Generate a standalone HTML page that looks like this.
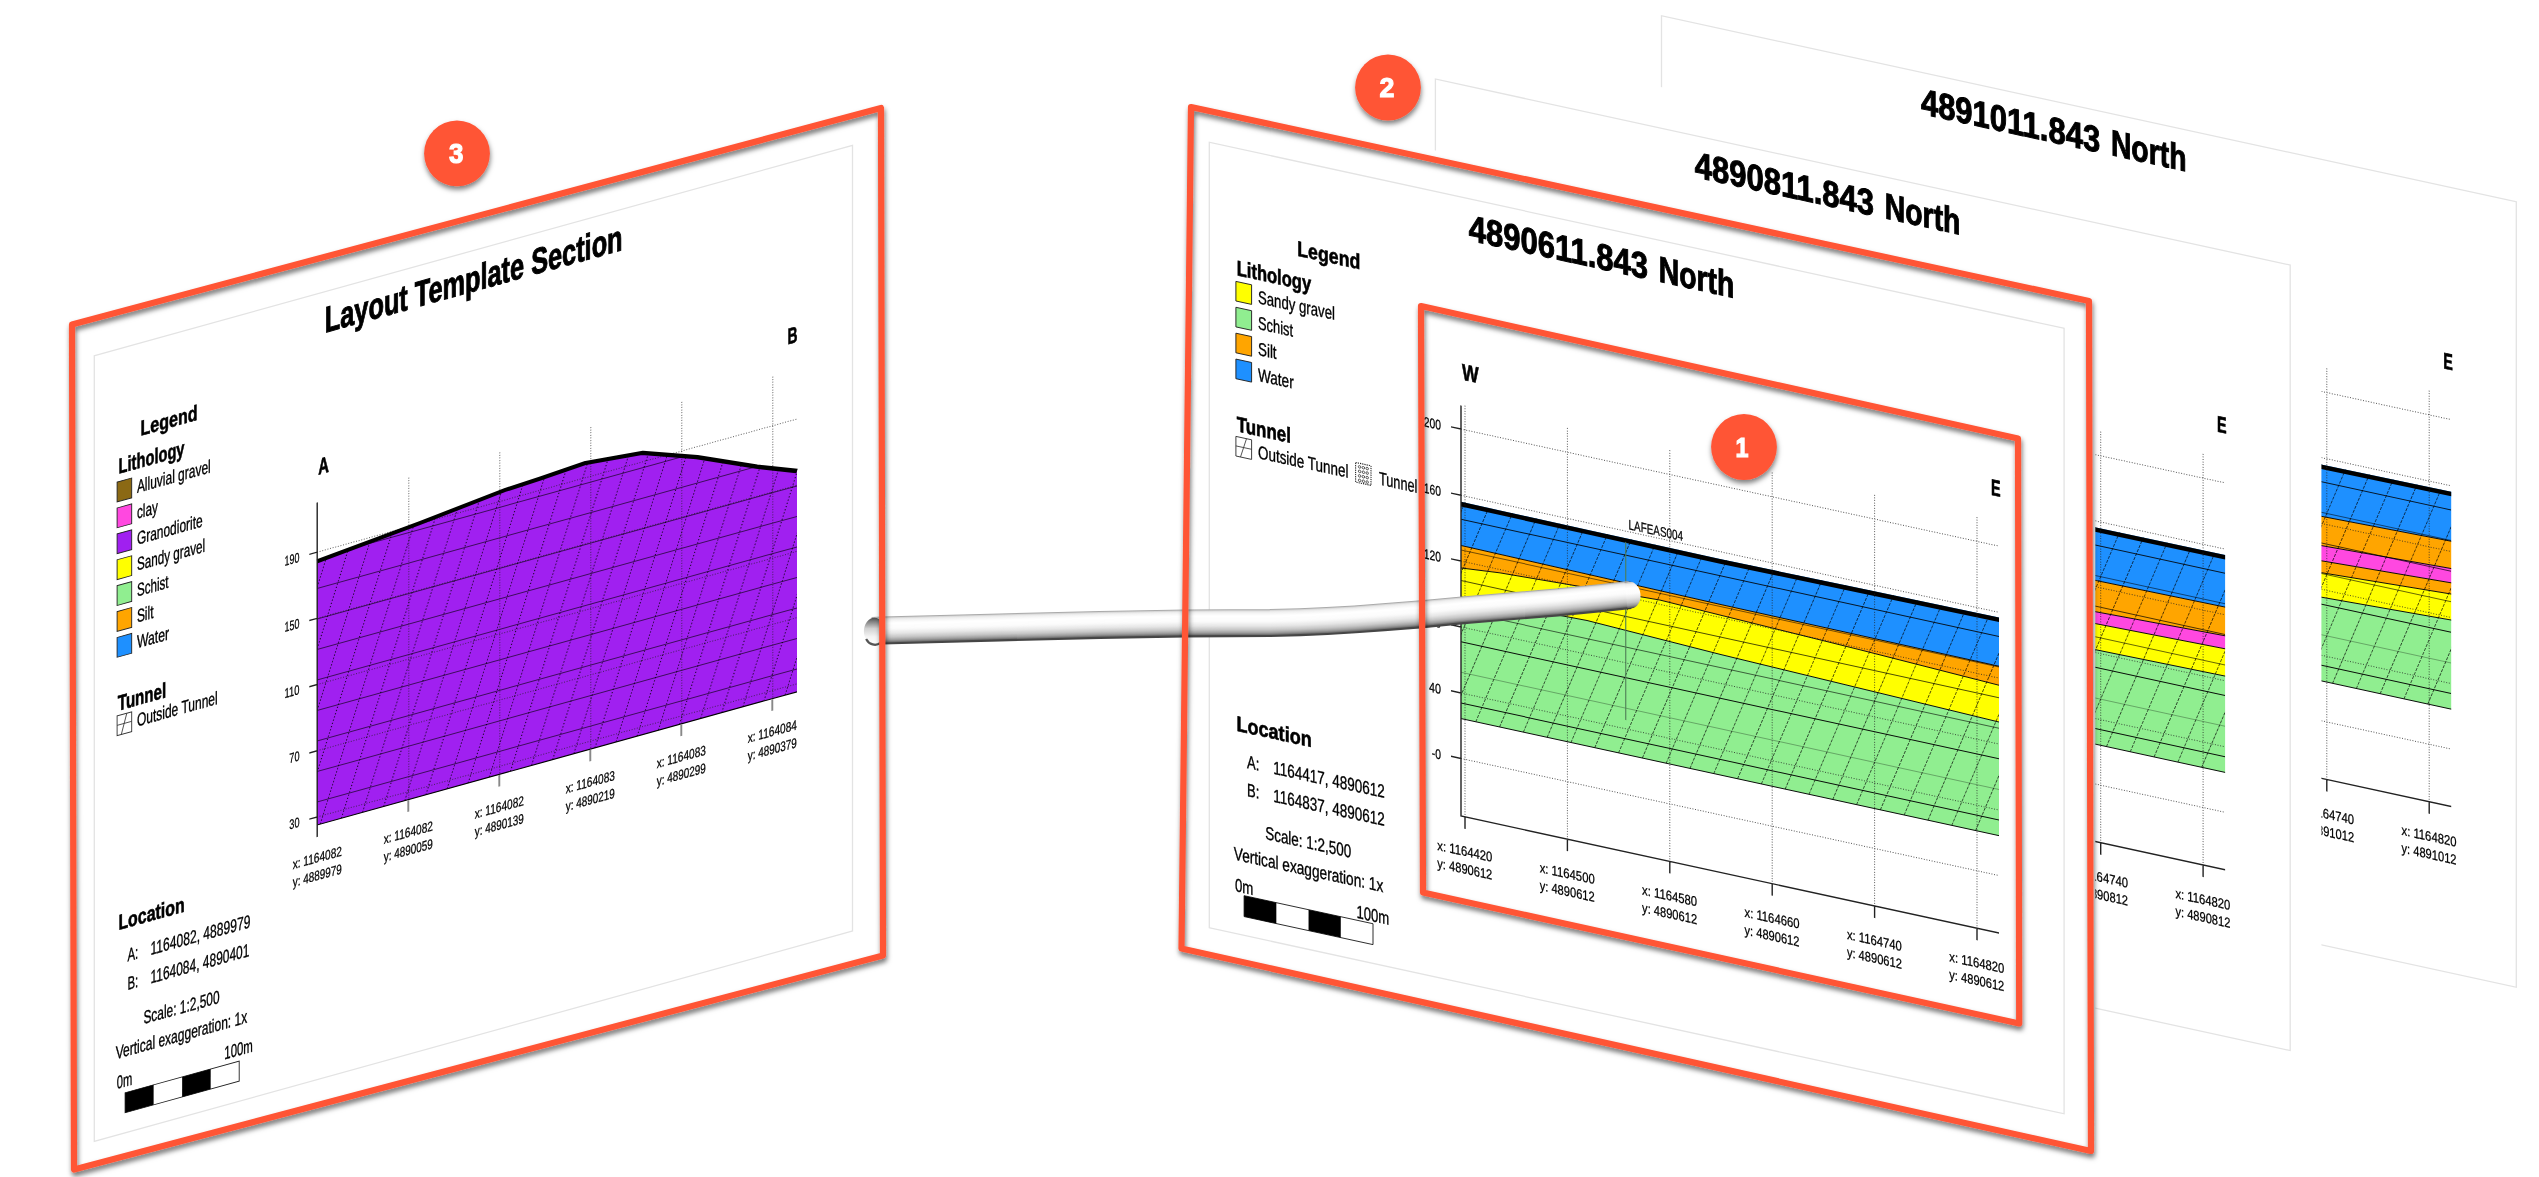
<!DOCTYPE html><html><head><meta charset="utf-8"><title>Section layout</title>
<style>html,body{margin:0;padding:0;background:#fff;overflow:hidden}svg{display:block;will-change:transform}text{font-family:"Liberation Sans",sans-serif}</style></head><body>
<svg width="2539" height="1177" viewBox="0 0 2539 1177">
<defs><filter id="sh" x="-5%" y="-5%" width="110%" height="110%"><feDropShadow dx="1" dy="3.6" stdDeviation="2.5" flood-color="#000" flood-opacity="0.55"/></filter><filter id="sh2" x="-20%" y="-20%" width="140%" height="140%"><feDropShadow dx="0.5" dy="3.4" stdDeviation="2.6" flood-color="#000" flood-opacity="0.5"/></filter></defs>
<rect width="2539" height="1177" fill="#fff"/>
<g transform="translate(452.2 -126.5) matrix(1 0.2176 0 1 0 -263.14)"><polygon points="1191.3,101.3 2095.3,101.3 2095.3,963.8 1191.3,963.8" fill="#fff"/><rect x="1209.3" y="142.3" width="854.8" height="785.5" fill="none" stroke="#e3e3e3" stroke-width="1.3"/><text x="1468.7" y="183.8" font-size="36.5" font-weight="bold" textLength="179.3" lengthAdjust="spacingAndGlyphs" stroke="#000" stroke-width="1.02">4891011.843</text><text x="1658.7" y="183.8" font-size="36.5" font-weight="bold" textLength="75.6" lengthAdjust="spacingAndGlyphs" stroke="#000" stroke-width="1.02">North</text><polygon points="1461,448 1869,447.4 1999,446.4 1999,495.9 1869,499.2 1461,506" fill="#1E90FF"/><polygon points="1461,506 1869,499.2 1999,495.9 1999,523.2 1869,528.5 1461,540" fill="#FFA500"/><polygon points="1461,540 1869,528.5 1999,523.2 1999,537.5 1869,543.7 1461,558" fill="#FF48E0"/><polygon points="1461,558 1869,543.7 1999,537.5 1999,548.7 1869,555.6 1461,572" fill="#FFA500"/><polygon points="1461,572 1869,555.6 1999,548.7 1999,574.7 1869,580.1 1461,592" fill="#FFFF00"/><polygon points="1461,592 1869,580.1 1999,574.7 1999,663.8 1869,663.8 1461,663.8" fill="#90EE90"/><clipPath id="h1"><polygon points="1461,448 1869,447.4 1999,446.4 1999,663.8 1461,663.8" /></clipPath><g clip-path="url(#h1)" stroke="#000" fill="none"><path d="M1332.9 664L1420.06 440M1380.5 664L1467.66 440M1428.1 664L1515.26 440M1475.7 664L1562.86 440M1523.3 664L1610.46 440M1570.9 664L1658.06 440M1618.5 664L1705.66 440M1666.1 664L1753.26 440M1713.7 664L1800.86 440M1761.3 664L1848.46 440M1808.9 664L1896.06 440M1856.5 664L1943.66 440M1904.1 664L1991.26 440M1951.7 664L2038.86 440M1999.3 664L2086.46 440" stroke-width="0.85" stroke-dasharray="3.4 1.3" stroke-opacity="0.72"/><path d="M1356.7 664L1443.86 440M1404.3 664L1491.46 440M1451.9 664L1539.06 440M1499.5 664L1586.66 440M1547.1 664L1634.26 440M1594.7 664L1681.86 440M1642.3 664L1729.46 440M1689.9 664L1777.06 440M1737.5 664L1824.66 440M1785.1 664L1872.26 440M1832.7 664L1919.86 440M1880.3 664L1967.46 440M1927.9 664L2015.06 440M1975.5 664L2062.66 440M2023.1 664L2110.26 440" stroke-width="0.85" stroke-dasharray="3.4 1.3" stroke-opacity="0.78"/><path d="M1461 464.6H1999" stroke-width="1" stroke-opacity="0.85"/><path d="M1461 495.2H1999" stroke-width="1" stroke-opacity="0.55"/><path d="M1461 525.8H1999" stroke-width="1" stroke-opacity="0.7"/><path d="M1461 556.4H1999" stroke-width="1" stroke-opacity="0.6"/><path d="M1461 587H1999" stroke-width="1" stroke-opacity="0.95"/><path d="M1461 617.6H1999" stroke-width="1" stroke-opacity="0.3"/><path d="M1461 648.2H1999" stroke-width="1" stroke-opacity="0.95"/></g><polyline points="1461,506 1869,499.2 1999,495.9" fill="none" stroke="#000" stroke-width="0.9"/><polyline points="1461,540 1869,528.5 1999,523.2" fill="none" stroke="#000" stroke-width="0.9"/><polyline points="1461,558 1869,543.7 1999,537.5" fill="none" stroke="#000" stroke-width="0.9"/><polyline points="1461,572 1869,555.6 1999,548.7" fill="none" stroke="#000" stroke-width="0.9"/><polyline points="1461,592 1869,580.1 1999,574.7" fill="none" stroke="#000" stroke-width="0.9"/><polyline points="1461,663.8 1869,663.8 1999,663.8" fill="none" stroke="#000" stroke-width="0.9"/><polygon points="1461,448 1869,447.4 1999,446.4 1999,451 1869,452 1461,452.6" fill="#000"/><path d="M1465 350V761M1567.4 350V761M1669.8 350V761M1772.2 350V761M1874.6 350V761M1977 350V761M1461 374.3H1999M1461 440.5H1999M1461 506.3H1999M1461 572.2H1999M1461 638.2H1999M1461 703.7H1999" stroke="#222" stroke-width="1" stroke-dasharray="1 1.6" fill="none" opacity="0.75"/><path d="M1461 350.7V761.2H1999M1451 374.3H1461M1451 440.5H1461M1451 506.3H1461M1451 572.2H1461M1451 638.2H1461M1451 703.7H1461M1465 761.2V773.2M1567.4 761.2V773.2M1669.8 761.2V773.2M1772.2 761.2V773.2M1874.6 761.2V773.2M1977 761.2V773.2" stroke="#222" stroke-width="1.4" fill="none"/><text x="1423.8" y="379.7" font-size="13.7" textLength="17.2" lengthAdjust="spacingAndGlyphs" stroke="#000" stroke-width="0.26">200</text><text x="1423.8" y="445.9" font-size="13.7" textLength="17.2" lengthAdjust="spacingAndGlyphs" stroke="#000" stroke-width="0.26">160</text><text x="1423.8" y="511.7" font-size="13.7" textLength="17.2" lengthAdjust="spacingAndGlyphs" stroke="#000" stroke-width="0.26">120</text><text x="1429.4" y="577.6" font-size="13.7" textLength="11.6" lengthAdjust="spacingAndGlyphs" stroke="#000" stroke-width="0.26">80</text><text x="1429" y="643.6" font-size="13.7" textLength="12" lengthAdjust="spacingAndGlyphs" stroke="#000" stroke-width="0.26">40</text><text x="1431.8" y="709.1" font-size="13.7" textLength="9.2" lengthAdjust="spacingAndGlyphs" stroke="#000" stroke-width="0.26">-0</text><text x="1437.3" y="800.3" font-size="13.7" textLength="55" lengthAdjust="spacingAndGlyphs" stroke="#000" stroke-width="0.26">x: 1164420</text><text x="1437.3" y="818.1" font-size="13.7" textLength="55" lengthAdjust="spacingAndGlyphs" stroke="#000" stroke-width="0.26">y: 4891012</text><text x="1539.7" y="800.3" font-size="13.7" textLength="55" lengthAdjust="spacingAndGlyphs" stroke="#000" stroke-width="0.26">x: 1164500</text><text x="1539.7" y="818.1" font-size="13.7" textLength="55" lengthAdjust="spacingAndGlyphs" stroke="#000" stroke-width="0.26">y: 4891012</text><text x="1642.1" y="800.3" font-size="13.7" textLength="55" lengthAdjust="spacingAndGlyphs" stroke="#000" stroke-width="0.26">x: 1164580</text><text x="1642.1" y="818.1" font-size="13.7" textLength="55" lengthAdjust="spacingAndGlyphs" stroke="#000" stroke-width="0.26">y: 4891012</text><text x="1744.5" y="800.3" font-size="13.7" textLength="55" lengthAdjust="spacingAndGlyphs" stroke="#000" stroke-width="0.26">x: 1164660</text><text x="1744.5" y="818.1" font-size="13.7" textLength="55" lengthAdjust="spacingAndGlyphs" stroke="#000" stroke-width="0.26">y: 4891012</text><text x="1846.9" y="800.3" font-size="13.7" textLength="55" lengthAdjust="spacingAndGlyphs" stroke="#000" stroke-width="0.26">x: 1164740</text><text x="1846.9" y="818.1" font-size="13.7" textLength="55" lengthAdjust="spacingAndGlyphs" stroke="#000" stroke-width="0.26">y: 4891012</text><text x="1949.3" y="800.3" font-size="13.7" textLength="55" lengthAdjust="spacingAndGlyphs" stroke="#000" stroke-width="0.26">x: 1164820</text><text x="1949.3" y="818.1" font-size="13.7" textLength="55" lengthAdjust="spacingAndGlyphs" stroke="#000" stroke-width="0.26">y: 4891012</text><text x="1991" y="324.6" font-size="22.6" font-weight="bold" textLength="9.6" lengthAdjust="spacingAndGlyphs" stroke="#000" stroke-width="0.63">E</text></g>
<g transform="translate(226.1 -63.25) matrix(1 0.2176 0 1 0 -263.14)"><polygon points="1191.3,101.3 2095.3,101.3 2095.3,963.8 1191.3,963.8" fill="#fff"/><rect x="1209.3" y="142.3" width="854.8" height="785.5" fill="none" stroke="#e3e3e3" stroke-width="1.3"/><text x="1468.7" y="183.8" font-size="36.5" font-weight="bold" textLength="179.3" lengthAdjust="spacingAndGlyphs" stroke="#000" stroke-width="1.02">4890811.843</text><text x="1658.7" y="183.8" font-size="36.5" font-weight="bold" textLength="75.6" lengthAdjust="spacingAndGlyphs" stroke="#000" stroke-width="1.02">North</text><polygon points="1461,447.5 1870,446.9 1999,446.3 1999,498.5 1870,500 1461,503" fill="#1E90FF"/><polygon points="1461,503 1870,500 1999,498.5 1999,527.2 1870,531.3 1461,540" fill="#FFA500"/><polygon points="1461,540 1870,531.3 1999,527.2 1999,540.2 1870,543.2 1461,550" fill="#FF48E0"/><polygon points="1461,550 1870,543.2 1999,540.2 1999,567.5 1870,569.3 1461,574" fill="#FFFF00"/><polygon points="1461,574 1870,569.3 1999,567.5 1999,663.8 1870,663.8 1461,663.8" fill="#90EE90"/><clipPath id="h2"><polygon points="1461,447.5 1870,446.9 1999,446.3 1999,663.8 1461,663.8" /></clipPath><g clip-path="url(#h2)" stroke="#000" fill="none"><path d="M1332.9 664L1420.06 440M1380.5 664L1467.66 440M1428.1 664L1515.26 440M1475.7 664L1562.86 440M1523.3 664L1610.46 440M1570.9 664L1658.06 440M1618.5 664L1705.66 440M1666.1 664L1753.26 440M1713.7 664L1800.86 440M1761.3 664L1848.46 440M1808.9 664L1896.06 440M1856.5 664L1943.66 440M1904.1 664L1991.26 440M1951.7 664L2038.86 440M1999.3 664L2086.46 440" stroke-width="0.85" stroke-dasharray="3.4 1.3" stroke-opacity="0.72"/><path d="M1356.7 664L1443.86 440M1404.3 664L1491.46 440M1451.9 664L1539.06 440M1499.5 664L1586.66 440M1547.1 664L1634.26 440M1594.7 664L1681.86 440M1642.3 664L1729.46 440M1689.9 664L1777.06 440M1737.5 664L1824.66 440M1785.1 664L1872.26 440M1832.7 664L1919.86 440M1880.3 664L1967.46 440M1927.9 664L2015.06 440M1975.5 664L2062.66 440M2023.1 664L2110.26 440" stroke-width="0.85" stroke-dasharray="3.4 1.3" stroke-opacity="0.78"/><path d="M1461 464.6H1999" stroke-width="1" stroke-opacity="0.85"/><path d="M1461 495.2H1999" stroke-width="1" stroke-opacity="0.55"/><path d="M1461 525.8H1999" stroke-width="1" stroke-opacity="0.7"/><path d="M1461 556.4H1999" stroke-width="1" stroke-opacity="0.6"/><path d="M1461 587H1999" stroke-width="1" stroke-opacity="0.95"/><path d="M1461 617.6H1999" stroke-width="1" stroke-opacity="0.3"/><path d="M1461 648.2H1999" stroke-width="1" stroke-opacity="0.95"/></g><polyline points="1461,503 1870,500 1999,498.5" fill="none" stroke="#000" stroke-width="0.9"/><polyline points="1461,540 1870,531.3 1999,527.2" fill="none" stroke="#000" stroke-width="0.9"/><polyline points="1461,550 1870,543.2 1999,540.2" fill="none" stroke="#000" stroke-width="0.9"/><polyline points="1461,574 1870,569.3 1999,567.5" fill="none" stroke="#000" stroke-width="0.9"/><polyline points="1461,663.8 1870,663.8 1999,663.8" fill="none" stroke="#000" stroke-width="0.9"/><polygon points="1461,447.5 1870,446.9 1999,446.3 1999,450.9 1870,451.5 1461,452.1" fill="#000"/><path d="M1465 350V761M1567.4 350V761M1669.8 350V761M1772.2 350V761M1874.6 350V761M1977 350V761M1461 374.3H1999M1461 440.5H1999M1461 506.3H1999M1461 572.2H1999M1461 638.2H1999M1461 703.7H1999" stroke="#222" stroke-width="1" stroke-dasharray="1 1.6" fill="none" opacity="0.75"/><path d="M1461 350.7V761.2H1999M1451 374.3H1461M1451 440.5H1461M1451 506.3H1461M1451 572.2H1461M1451 638.2H1461M1451 703.7H1461M1465 761.2V773.2M1567.4 761.2V773.2M1669.8 761.2V773.2M1772.2 761.2V773.2M1874.6 761.2V773.2M1977 761.2V773.2" stroke="#222" stroke-width="1.4" fill="none"/><text x="1423.8" y="379.7" font-size="13.7" textLength="17.2" lengthAdjust="spacingAndGlyphs" stroke="#000" stroke-width="0.26">200</text><text x="1423.8" y="445.9" font-size="13.7" textLength="17.2" lengthAdjust="spacingAndGlyphs" stroke="#000" stroke-width="0.26">160</text><text x="1423.8" y="511.7" font-size="13.7" textLength="17.2" lengthAdjust="spacingAndGlyphs" stroke="#000" stroke-width="0.26">120</text><text x="1429.4" y="577.6" font-size="13.7" textLength="11.6" lengthAdjust="spacingAndGlyphs" stroke="#000" stroke-width="0.26">80</text><text x="1429" y="643.6" font-size="13.7" textLength="12" lengthAdjust="spacingAndGlyphs" stroke="#000" stroke-width="0.26">40</text><text x="1431.8" y="709.1" font-size="13.7" textLength="9.2" lengthAdjust="spacingAndGlyphs" stroke="#000" stroke-width="0.26">-0</text><text x="1437.3" y="800.3" font-size="13.7" textLength="55" lengthAdjust="spacingAndGlyphs" stroke="#000" stroke-width="0.26">x: 1164420</text><text x="1437.3" y="818.1" font-size="13.7" textLength="55" lengthAdjust="spacingAndGlyphs" stroke="#000" stroke-width="0.26">y: 4890812</text><text x="1539.7" y="800.3" font-size="13.7" textLength="55" lengthAdjust="spacingAndGlyphs" stroke="#000" stroke-width="0.26">x: 1164500</text><text x="1539.7" y="818.1" font-size="13.7" textLength="55" lengthAdjust="spacingAndGlyphs" stroke="#000" stroke-width="0.26">y: 4890812</text><text x="1642.1" y="800.3" font-size="13.7" textLength="55" lengthAdjust="spacingAndGlyphs" stroke="#000" stroke-width="0.26">x: 1164580</text><text x="1642.1" y="818.1" font-size="13.7" textLength="55" lengthAdjust="spacingAndGlyphs" stroke="#000" stroke-width="0.26">y: 4890812</text><text x="1744.5" y="800.3" font-size="13.7" textLength="55" lengthAdjust="spacingAndGlyphs" stroke="#000" stroke-width="0.26">x: 1164660</text><text x="1744.5" y="818.1" font-size="13.7" textLength="55" lengthAdjust="spacingAndGlyphs" stroke="#000" stroke-width="0.26">y: 4890812</text><text x="1846.9" y="800.3" font-size="13.7" textLength="55" lengthAdjust="spacingAndGlyphs" stroke="#000" stroke-width="0.26">x: 1164740</text><text x="1846.9" y="818.1" font-size="13.7" textLength="55" lengthAdjust="spacingAndGlyphs" stroke="#000" stroke-width="0.26">y: 4890812</text><text x="1949.3" y="800.3" font-size="13.7" textLength="55" lengthAdjust="spacingAndGlyphs" stroke="#000" stroke-width="0.26">x: 1164820</text><text x="1949.3" y="818.1" font-size="13.7" textLength="55" lengthAdjust="spacingAndGlyphs" stroke="#000" stroke-width="0.26">y: 4890812</text><text x="1991" y="324.6" font-size="22.6" font-weight="bold" textLength="9.6" lengthAdjust="spacingAndGlyphs" stroke="#000" stroke-width="0.63">E</text></g>
<g transform="translate(0 0) matrix(1 0.2176 0 1 0 -263.14)"><polygon points="1191.3,101.3 2095.3,101.3 2095.3,963.8 1191.3,963.8" fill="#fff"/><rect x="1209.3" y="142.3" width="854.8" height="785.5" fill="none" stroke="#e3e3e3" stroke-width="1.3"/><text x="1468.7" y="183.8" font-size="36.5" font-weight="bold" textLength="179.3" lengthAdjust="spacingAndGlyphs" stroke="#000" stroke-width="1.02">4890611.843</text><text x="1658.7" y="183.8" font-size="36.5" font-weight="bold" textLength="75.6" lengthAdjust="spacingAndGlyphs" stroke="#000" stroke-width="1.02">North</text><polygon points="1461,447.1 1500,447.22 1587,447.49 1660,447.71 1720,447.9 1860,446.75 1999,445.6 1999,494.4 1860,493.8 1720,493.2 1660,492.62 1587,491.92 1500,491.08 1461,490.7" fill="#1E90FF"/><polygon points="1461,490.7 1500,491.08 1587,491.92 1660,492.62 1720,493.2 1860,493.8 1999,494.4 1999,513.4 1860,508.2 1720,503.9 1660,502 1587,505.47 1500,509.6 1461,513.2" fill="#FFA500"/><polygon points="1461,513.2 1500,509.6 1587,505.47 1660,502 1720,503.9 1860,508.2 1999,513.4 1999,550.2 1860,546.7 1720,543.2 1660,540.99 1587,538.3 1500,540.99 1461,542.2" fill="#FFFF00"/><polygon points="1461,542.2 1500,540.99 1587,538.3 1660,540.99 1720,543.2 1860,546.7 1999,550.2 1999,663.8 1860,663.8 1720,663.8 1660,663.8 1587,663.8 1500,663.8 1461,663.8" fill="#90EE90"/><clipPath id="h3"><polygon points="1461,447.1 1500,447.22 1587,447.49 1660,447.71 1720,447.9 1860,446.75 1999,445.6 1999,663.8 1461,663.8" /></clipPath><g clip-path="url(#h3)" stroke="#000" fill="none"><path d="M1332.9 664L1420.06 440M1380.5 664L1467.66 440M1428.1 664L1515.26 440M1475.7 664L1562.86 440M1523.3 664L1610.46 440M1570.9 664L1658.06 440M1618.5 664L1705.66 440M1666.1 664L1753.26 440M1713.7 664L1800.86 440M1761.3 664L1848.46 440M1808.9 664L1896.06 440M1856.5 664L1943.66 440M1904.1 664L1991.26 440M1951.7 664L2038.86 440M1999.3 664L2086.46 440" stroke-width="0.85" stroke-dasharray="3.4 1.3" stroke-opacity="0.72"/><path d="M1356.7 664L1443.86 440M1404.3 664L1491.46 440M1451.9 664L1539.06 440M1499.5 664L1586.66 440M1547.1 664L1634.26 440M1594.7 664L1681.86 440M1642.3 664L1729.46 440M1689.9 664L1777.06 440M1737.5 664L1824.66 440M1785.1 664L1872.26 440M1832.7 664L1919.86 440M1880.3 664L1967.46 440M1927.9 664L2015.06 440M1975.5 664L2062.66 440M2023.1 664L2110.26 440" stroke-width="0.85" stroke-dasharray="3.4 1.3" stroke-opacity="0.78"/><path d="M1461 464.6H1999" stroke-width="1" stroke-opacity="0.85"/><path d="M1461 495.2H1999" stroke-width="1" stroke-opacity="0.55"/><path d="M1461 525.8H1999" stroke-width="1" stroke-opacity="0.7"/><path d="M1461 556.4H1999" stroke-width="1" stroke-opacity="0.6"/><path d="M1461 587H1999" stroke-width="1" stroke-opacity="0.95"/><path d="M1461 617.6H1999" stroke-width="1" stroke-opacity="0.3"/><path d="M1461 648.2H1999" stroke-width="1" stroke-opacity="0.95"/></g><polyline points="1461,490.7 1500,491.08 1587,491.92 1660,492.62 1720,493.2 1860,493.8 1999,494.4" fill="none" stroke="#000" stroke-width="0.9"/><polyline points="1461,513.2 1500,509.6 1587,505.47 1660,502 1720,503.9 1860,508.2 1999,513.4" fill="none" stroke="#000" stroke-width="0.9"/><polyline points="1461,542.2 1500,540.99 1587,538.3 1660,540.99 1720,543.2 1860,546.7 1999,550.2" fill="none" stroke="#000" stroke-width="0.9"/><polyline points="1461,663.8 1500,663.8 1587,663.8 1660,663.8 1720,663.8 1860,663.8 1999,663.8" fill="none" stroke="#000" stroke-width="0.9"/><polygon points="1461,447.1 1500,447.22 1587,447.49 1660,447.71 1720,447.9 1860,446.75 1999,445.6 1999,450.2 1860,451.35 1720,452.5 1660,452.31 1587,452.09 1500,451.82 1461,451.7" fill="#000"/><path d="M1465 350V761M1567.4 350V761M1669.8 350V761M1772.2 350V761M1874.6 350V761M1977 350V761M1461 374.3H1999M1461 440.5H1999M1461 506.3H1999M1461 572.2H1999M1461 638.2H1999M1461 703.7H1999" stroke="#222" stroke-width="1" stroke-dasharray="1 1.6" fill="none" opacity="0.75"/><path d="M1461 350.7V761.2H1999M1451 374.3H1461M1451 440.5H1461M1451 506.3H1461M1451 572.2H1461M1451 638.2H1461M1451 703.7H1461M1465 761.2V773.2M1567.4 761.2V773.2M1669.8 761.2V773.2M1772.2 761.2V773.2M1874.6 761.2V773.2M1977 761.2V773.2" stroke="#222" stroke-width="1.4" fill="none"/><text x="1423.8" y="379.7" font-size="13.7" textLength="17.2" lengthAdjust="spacingAndGlyphs" stroke="#000" stroke-width="0.26">200</text><text x="1423.8" y="445.9" font-size="13.7" textLength="17.2" lengthAdjust="spacingAndGlyphs" stroke="#000" stroke-width="0.26">160</text><text x="1423.8" y="511.7" font-size="13.7" textLength="17.2" lengthAdjust="spacingAndGlyphs" stroke="#000" stroke-width="0.26">120</text><text x="1429.4" y="577.6" font-size="13.7" textLength="11.6" lengthAdjust="spacingAndGlyphs" stroke="#000" stroke-width="0.26">80</text><text x="1429" y="643.6" font-size="13.7" textLength="12" lengthAdjust="spacingAndGlyphs" stroke="#000" stroke-width="0.26">40</text><text x="1431.8" y="709.1" font-size="13.7" textLength="9.2" lengthAdjust="spacingAndGlyphs" stroke="#000" stroke-width="0.26">-0</text><text x="1437.3" y="800.3" font-size="13.7" textLength="55" lengthAdjust="spacingAndGlyphs" stroke="#000" stroke-width="0.26">x: 1164420</text><text x="1437.3" y="818.1" font-size="13.7" textLength="55" lengthAdjust="spacingAndGlyphs" stroke="#000" stroke-width="0.26">y: 4890612</text><text x="1539.7" y="800.3" font-size="13.7" textLength="55" lengthAdjust="spacingAndGlyphs" stroke="#000" stroke-width="0.26">x: 1164500</text><text x="1539.7" y="818.1" font-size="13.7" textLength="55" lengthAdjust="spacingAndGlyphs" stroke="#000" stroke-width="0.26">y: 4890612</text><text x="1642.1" y="800.3" font-size="13.7" textLength="55" lengthAdjust="spacingAndGlyphs" stroke="#000" stroke-width="0.26">x: 1164580</text><text x="1642.1" y="818.1" font-size="13.7" textLength="55" lengthAdjust="spacingAndGlyphs" stroke="#000" stroke-width="0.26">y: 4890612</text><text x="1744.5" y="800.3" font-size="13.7" textLength="55" lengthAdjust="spacingAndGlyphs" stroke="#000" stroke-width="0.26">x: 1164660</text><text x="1744.5" y="818.1" font-size="13.7" textLength="55" lengthAdjust="spacingAndGlyphs" stroke="#000" stroke-width="0.26">y: 4890612</text><text x="1846.9" y="800.3" font-size="13.7" textLength="55" lengthAdjust="spacingAndGlyphs" stroke="#000" stroke-width="0.26">x: 1164740</text><text x="1846.9" y="818.1" font-size="13.7" textLength="55" lengthAdjust="spacingAndGlyphs" stroke="#000" stroke-width="0.26">y: 4890612</text><text x="1949.3" y="800.3" font-size="13.7" textLength="55" lengthAdjust="spacingAndGlyphs" stroke="#000" stroke-width="0.26">x: 1164820</text><text x="1949.3" y="818.1" font-size="13.7" textLength="55" lengthAdjust="spacingAndGlyphs" stroke="#000" stroke-width="0.26">y: 4890612</text><text x="1991" y="324.6" font-size="22.6" font-weight="bold" textLength="9.6" lengthAdjust="spacingAndGlyphs" stroke="#000" stroke-width="0.63">E</text><text x="1462" y="324.4" font-size="22.6" font-weight="bold" textLength="16.6" lengthAdjust="spacingAndGlyphs" stroke="#000" stroke-width="0.63">W</text><line x1="1625.7" y1="451.4" x2="1625.7" y2="629.4" stroke="#4f7d56" stroke-width="1.3" stroke-opacity="0.85"/><text x="1628.6" y="438" font-size="13.7" textLength="54.4" lengthAdjust="spacingAndGlyphs" stroke="#000" stroke-width="0.26">LAFEAS004</text><text x="1297.3" y="236.6" font-size="21.3" font-weight="bold" textLength="63" lengthAdjust="spacingAndGlyphs" stroke="#000" stroke-width="0.6">Legend</text><text x="1236.7" y="269.2" font-size="21.3" font-weight="bold" textLength="74.4" lengthAdjust="spacingAndGlyphs" stroke="#000" stroke-width="0.6">Lithology</text><rect x="1235.9" y="275.6" width="15.7" height="19.6" fill="#FFFF00" stroke="#222" stroke-width="0.9"/><text x="1258" y="292.6" font-size="18.3" textLength="76.9" lengthAdjust="spacingAndGlyphs" stroke="#000" stroke-width="0.35">Sandy gravel</text><rect x="1235.9" y="301.5" width="15.7" height="19.6" fill="#90EE90" stroke="#222" stroke-width="0.9"/><text x="1258" y="318.5" font-size="18.3" textLength="35" lengthAdjust="spacingAndGlyphs" stroke="#000" stroke-width="0.35">Schist</text><rect x="1235.9" y="327.4" width="15.7" height="19.6" fill="#FFA500" stroke="#222" stroke-width="0.9"/><text x="1258" y="344.4" font-size="18.3" textLength="18.6" lengthAdjust="spacingAndGlyphs" stroke="#000" stroke-width="0.35">Silt</text><rect x="1235.9" y="353.3" width="15.7" height="19.6" fill="#1E90FF" stroke="#222" stroke-width="0.9"/><text x="1258" y="370.3" font-size="18.3" textLength="35.7" lengthAdjust="spacingAndGlyphs" stroke="#000" stroke-width="0.35">Water</text><text x="1236.7" y="425.2" font-size="21.3" font-weight="bold" textLength="54.2" lengthAdjust="spacingAndGlyphs" stroke="#000" stroke-width="0.6">Tunnel</text><rect x="1235.9" y="430.6" width="15.7" height="19.6" fill="#fff" stroke="#333" stroke-width="0.9"/><path d="M1235.9 440.1H1251.6M1240.5 450.2L1246.5 430.6" stroke="#333" stroke-width="0.8" fill="none"/><text x="1258" y="447.6" font-size="18.3" textLength="90.4" lengthAdjust="spacingAndGlyphs" stroke="#000" stroke-width="0.35">Outside Tunnel</text><rect x="1355.6" y="430.6" width="15.4" height="19.6" fill="#fff" stroke="#222" stroke-width="1.1" stroke-dasharray="1.2 1"/><g fill="none" stroke="#222" stroke-width="0.7"><circle cx="1359.6" cy="434.2" r="1.25"/><circle cx="1359.6" cy="438.7" r="1.25"/><circle cx="1359.6" cy="443.2" r="1.25"/><circle cx="1359.6" cy="447.7" r="1.25"/><circle cx="1363.4" cy="434.2" r="1.25"/><circle cx="1363.4" cy="438.7" r="1.25"/><circle cx="1363.4" cy="443.2" r="1.25"/><circle cx="1363.4" cy="447.7" r="1.25"/><circle cx="1367.2" cy="434.2" r="1.25"/><circle cx="1367.2" cy="438.7" r="1.25"/><circle cx="1367.2" cy="443.2" r="1.25"/><circle cx="1367.2" cy="447.7" r="1.25"/></g><text x="1378.9" y="447.6" font-size="18.3" textLength="38.5" lengthAdjust="spacingAndGlyphs" stroke="#000" stroke-width="0.35">Tunnel</text><text x="1236.5" y="724.9" font-size="21.3" font-weight="bold" textLength="75.2" lengthAdjust="spacingAndGlyphs" stroke="#000" stroke-width="0.6">Location</text><text x="1247.1" y="759.8" font-size="18.3" textLength="12.3" lengthAdjust="spacingAndGlyphs" stroke="#000" stroke-width="0.35">A:</text><text x="1273.2" y="759.8" font-size="18.3" textLength="111.5" lengthAdjust="spacingAndGlyphs" stroke="#000" stroke-width="0.35">1164417, 4890612</text><text x="1247.1" y="787.8" font-size="18.3" textLength="12.3" lengthAdjust="spacingAndGlyphs" stroke="#000" stroke-width="0.35">B:</text><text x="1273.2" y="787.8" font-size="18.3" textLength="111.5" lengthAdjust="spacingAndGlyphs" stroke="#000" stroke-width="0.35">1164837, 4890612</text><text x="1265.2" y="826.9" font-size="18.3" textLength="86" lengthAdjust="spacingAndGlyphs" stroke="#000" stroke-width="0.35">Scale: 1:2,500</text><text x="1233.8" y="854.3" font-size="18.3" textLength="149.5" lengthAdjust="spacingAndGlyphs" stroke="#000" stroke-width="0.35">Vertical exaggeration: 1x</text><text x="1234.9" y="885.5" font-size="18.3" textLength="18.4" lengthAdjust="spacingAndGlyphs" stroke="#000" stroke-width="0.35">0m</text><text x="1356.5" y="885.8" font-size="18.3" textLength="32.8" lengthAdjust="spacingAndGlyphs" stroke="#000" stroke-width="0.35">100m</text><rect x="1244.1" y="888.1" width="128.9" height="20.9" fill="#fff" stroke="#222" stroke-width="0.9"/><rect x="1244.1" y="888.1" width="32.23" height="20.9" fill="#000"/><rect x="1308.55" y="888.1" width="32.23" height="20.9" fill="#000"/></g>
<g transform="matrix(1 -0.2775 0 1 0 87.97)"><polygon points="72,256 883,256 883,1113 72,1113" fill="#fff"/><rect x="94.3" y="293.9" width="758.2" height="785.7" fill="none" stroke="#e3e3e3" stroke-width="1.3"/><text x="324.8" y="334.8" font-size="36.5" font-weight="bold" textLength="297.8" lengthAdjust="spacingAndGlyphs" stroke="#000" stroke-width="1.02">Layout Template Section</text><text x="140.5" y="386.7" font-size="21.3" font-weight="bold" textLength="57.1" lengthAdjust="spacingAndGlyphs" stroke="#000" stroke-width="0.6">Legend</text><text x="118.6" y="418.7" font-size="21.3" font-weight="bold" textLength="65.9" lengthAdjust="spacingAndGlyphs" stroke="#000" stroke-width="0.6">Lithology</text><rect x="117.1" y="426.6" width="14.6" height="19.8" fill="#8B6914" stroke="#222" stroke-width="0.9"/><text x="136.9" y="442.9" font-size="18.3" textLength="73.8" lengthAdjust="spacingAndGlyphs" stroke="#000" stroke-width="0.35">Alluvial gravel</text><rect x="117.1" y="452.5" width="14.6" height="19.8" fill="#FF48E0" stroke="#222" stroke-width="0.9"/><text x="136.9" y="468.8" font-size="18.3" textLength="20.9" lengthAdjust="spacingAndGlyphs" stroke="#000" stroke-width="0.35">clay</text><rect x="117.1" y="478.4" width="14.6" height="19.8" fill="#A020F0" stroke="#222" stroke-width="0.9"/><text x="136.9" y="494.7" font-size="18.3" textLength="65.8" lengthAdjust="spacingAndGlyphs" stroke="#000" stroke-width="0.35">Granodiorite</text><rect x="117.1" y="504.3" width="14.6" height="19.8" fill="#FFFF00" stroke="#222" stroke-width="0.9"/><text x="136.9" y="520.6" font-size="18.3" textLength="68.2" lengthAdjust="spacingAndGlyphs" stroke="#000" stroke-width="0.35">Sandy gravel</text><rect x="117.1" y="530.2" width="14.6" height="19.8" fill="#90EE90" stroke="#222" stroke-width="0.9"/><text x="136.9" y="546.5" font-size="18.3" textLength="31.6" lengthAdjust="spacingAndGlyphs" stroke="#000" stroke-width="0.35">Schist</text><rect x="117.1" y="556.1" width="14.6" height="19.8" fill="#FFA500" stroke="#222" stroke-width="0.9"/><text x="136.9" y="572.4" font-size="18.3" textLength="16.6" lengthAdjust="spacingAndGlyphs" stroke="#000" stroke-width="0.35">Silt</text><rect x="117.1" y="582" width="14.6" height="19.8" fill="#1E90FF" stroke="#222" stroke-width="0.9"/><text x="136.9" y="598.3" font-size="18.3" textLength="32.1" lengthAdjust="spacingAndGlyphs" stroke="#000" stroke-width="0.35">Water</text><text x="117.8" y="655.4" font-size="21.3" font-weight="bold" textLength="48.3" lengthAdjust="spacingAndGlyphs" stroke="#000" stroke-width="0.6">Tunnel</text><rect x="117.1" y="660.4" width="14.6" height="19.8" fill="#fff" stroke="#333" stroke-width="0.9"/><path d="M117.1 669.9H131.7M121.3 680.2L126.8 660.4" stroke="#333" stroke-width="0.8" fill="none"/><text x="136.9" y="676.4" font-size="18.3" textLength="80.8" lengthAdjust="spacingAndGlyphs" stroke="#000" stroke-width="0.35">Outside Tunnel</text><text x="118.4" y="874.8" font-size="21.3" font-weight="bold" textLength="66.3" lengthAdjust="spacingAndGlyphs" stroke="#000" stroke-width="0.6">Location</text><text x="127.5" y="908.8" font-size="18.3" textLength="10.8" lengthAdjust="spacingAndGlyphs" stroke="#000" stroke-width="0.35">A:</text><text x="150.5" y="908.8" font-size="18.3" textLength="99.9" lengthAdjust="spacingAndGlyphs" stroke="#000" stroke-width="0.35">1164082, 4889979</text><text x="127.5" y="937.3" font-size="18.3" textLength="10.8" lengthAdjust="spacingAndGlyphs" stroke="#000" stroke-width="0.35">B:</text><text x="150.5" y="937.3" font-size="18.3" textLength="98.9" lengthAdjust="spacingAndGlyphs" stroke="#000" stroke-width="0.35">1164084, 4890401</text><text x="143.4" y="975.9" font-size="18.3" textLength="76.2" lengthAdjust="spacingAndGlyphs" stroke="#000" stroke-width="0.35">Scale: 1:2,500</text><text x="115.7" y="1003.3" font-size="18.3" textLength="131.5" lengthAdjust="spacingAndGlyphs" stroke="#000" stroke-width="0.35">Vertical exaggeration: 1x</text><text x="116.7" y="1033.5" font-size="18.3" textLength="15.5" lengthAdjust="spacingAndGlyphs" stroke="#000" stroke-width="0.35">0m</text><text x="224.3" y="1033.9" font-size="18.3" textLength="28.6" lengthAdjust="spacingAndGlyphs" stroke="#000" stroke-width="0.35">100m</text><rect x="125.1" y="1039.5" width="114.1" height="20" fill="#fff" stroke="#222" stroke-width="0.9"/><rect x="125.1" y="1039.5" width="28.52" height="20" fill="#000"/><rect x="182.15" y="1039.5" width="28.52" height="20" fill="#000"/><polygon points="317,561.4 420,551.6 505,542.2 540,540.5 585,537.5 642.4,543.2 697,562.6 756.7,588.7 797,604.2 797,825 317,825" fill="#A020F0"/><clipPath id="h4"><polygon points="317,561.4 420,551.6 505,542.2 540,540.5 585,537.5 642.4,543.2 697,562.6 756.7,588.7 797,604.2 797,825 317,825" /></clipPath><g clip-path="url(#h4)" stroke="#000" fill="none"><path d="M193.48 825L294.51 530M235.74 825L336.77 530M278 825L379.03 530M320.26 825L421.29 530M362.52 825L463.55 530M404.78 825L505.81 530M447.04 825L548.07 530M489.3 825L590.33 530M531.56 825L632.59 530M573.82 825L674.85 530M616.08 825L717.11 530M658.34 825L759.37 530M700.6 825L801.63 530M742.86 825L843.89 530M785.12 825L886.15 530M827.38 825L928.41 530" stroke-width="0.95" stroke-dasharray="1.6 1.5" stroke-opacity="0.72"/><path d="M214.61 825L315.64 530M256.87 825L357.9 530M299.13 825L400.16 530M341.39 825L442.42 530M383.65 825L484.68 530M425.91 825L526.94 530M468.17 825L569.2 530M510.43 825L611.46 530M552.69 825L653.72 530M594.95 825L695.98 530M637.21 825L738.24 530M679.47 825L780.5 530M721.73 825L822.76 530M763.99 825L865.02 530M806.25 825L907.28 530" stroke-width="1.15" stroke-dasharray="1.2 1.9" stroke-opacity="0.78"/><path d="M317 558.1H797" stroke-width="1" stroke-opacity="0.62"/><path d="M317 588.6H797" stroke-width="1" stroke-opacity="0.62"/><path d="M317 619.1H797" stroke-width="1" stroke-opacity="0.62"/><path d="M317 649.6H797" stroke-width="1" stroke-opacity="0.62"/><path d="M317 680.1H797" stroke-width="1" stroke-opacity="0.62"/><path d="M317 710.6H797" stroke-width="1" stroke-opacity="0.62"/><path d="M317 741.1H797" stroke-width="1" stroke-opacity="0.62"/><path d="M317 771.6H797" stroke-width="1" stroke-opacity="0.62"/><path d="M317 802.1H797" stroke-width="1" stroke-opacity="0.62"/></g><path d="M408.8 503V825M499.8 503V825M590.8 503V825M681.8 503V825M772.8 503V825M317 552.2H797M317 618.4H797M317 684.6H797M317 750.8H797M317 817H797" stroke="#222" stroke-width="1" stroke-dasharray="1 1.6" fill="none" opacity="0.7"/><polyline points="797,825 317,825" fill="none" stroke="#000" stroke-width="1.2"/><polyline points="317,561.4 420,551.6 505,542.2 540,540.5 585,537.5 642.4,543.2 697,562.6 756.7,588.7 797,604.2" fill="none" stroke="#000" stroke-width="4.2" stroke-linejoin="round"/><path d="M317.2 502.6V837M309.3 552.2H317.2M309.3 618.4H317.2M309.3 684.6H317.2M309.3 750.8H317.2M309.3 817H317.2" stroke="#222" stroke-width="1.4" fill="none"/><path d="M408.3 825.5V837M499.3 825.5V837M590.3 825.5V837M681.3 825.5V837M772.3 825.5V837" stroke="#888" stroke-width="1.9" fill="none"/><text x="284.6" y="556.9" font-size="13.7" textLength="14.9" lengthAdjust="spacingAndGlyphs" stroke="#000" stroke-width="0.26">190</text><text x="284.6" y="623.1" font-size="13.7" textLength="14.9" lengthAdjust="spacingAndGlyphs" stroke="#000" stroke-width="0.26">150</text><text x="284.6" y="689.3" font-size="13.7" textLength="14.9" lengthAdjust="spacingAndGlyphs" stroke="#000" stroke-width="0.26">110</text><text x="289.3" y="755.5" font-size="13.7" textLength="10.2" lengthAdjust="spacingAndGlyphs" stroke="#000" stroke-width="0.26">70</text><text x="289.3" y="821.7" font-size="13.7" textLength="10.2" lengthAdjust="spacingAndGlyphs" stroke="#000" stroke-width="0.26">30</text><text x="292.7" y="862.5" font-size="13.7" textLength="49.2" lengthAdjust="spacingAndGlyphs" stroke="#000" stroke-width="0.26">x: 1164082</text><text x="292.7" y="880.3" font-size="13.7" textLength="49.2" lengthAdjust="spacingAndGlyphs" stroke="#000" stroke-width="0.26">y: 4889979</text><text x="383.7" y="862.5" font-size="13.7" textLength="49.2" lengthAdjust="spacingAndGlyphs" stroke="#000" stroke-width="0.26">x: 1164082</text><text x="383.7" y="880.3" font-size="13.7" textLength="49.2" lengthAdjust="spacingAndGlyphs" stroke="#000" stroke-width="0.26">y: 4890059</text><text x="474.7" y="862.5" font-size="13.7" textLength="49.2" lengthAdjust="spacingAndGlyphs" stroke="#000" stroke-width="0.26">x: 1164082</text><text x="474.7" y="880.3" font-size="13.7" textLength="49.2" lengthAdjust="spacingAndGlyphs" stroke="#000" stroke-width="0.26">y: 4890139</text><text x="565.7" y="862.5" font-size="13.7" textLength="49.2" lengthAdjust="spacingAndGlyphs" stroke="#000" stroke-width="0.26">x: 1164083</text><text x="565.7" y="880.3" font-size="13.7" textLength="49.2" lengthAdjust="spacingAndGlyphs" stroke="#000" stroke-width="0.26">y: 4890219</text><text x="656.7" y="862.5" font-size="13.7" textLength="49.2" lengthAdjust="spacingAndGlyphs" stroke="#000" stroke-width="0.26">x: 1164083</text><text x="656.7" y="880.3" font-size="13.7" textLength="49.2" lengthAdjust="spacingAndGlyphs" stroke="#000" stroke-width="0.26">y: 4890299</text><text x="747.7" y="862.5" font-size="13.7" textLength="49.2" lengthAdjust="spacingAndGlyphs" stroke="#000" stroke-width="0.26">x: 1164084</text><text x="747.7" y="880.3" font-size="13.7" textLength="49.2" lengthAdjust="spacingAndGlyphs" stroke="#000" stroke-width="0.26">y: 4890379</text><text x="318.3" y="475" font-size="22.6" font-weight="bold" textLength="10.7" lengthAdjust="spacingAndGlyphs" stroke="#000" stroke-width="0.63">A</text><text x="787.6" y="475.2" font-size="22.6" font-weight="bold" textLength="10" lengthAdjust="spacingAndGlyphs" stroke="#000" stroke-width="0.63">B</text></g>
<polygon points="871.6,617.51 881.64,617.2 999.65,614.1 1099.7,611.5 1184.82,610 1229.95,609.8 1269.83,609.7 1299.53,608.91 1326.29,607.72 1354.1,606.03 1382.58,603.94 1420.83,600.95 1458.8,597.25 1508.88,593.05 1555.78,589.16 1598.63,584.87 1628.58,581.68 1631.42,608.32 1601.37,611.53 1558.22,615.84 1511.12,619.75 1461.2,623.95 1423.17,627.65 1384.62,630.66 1355.9,632.77 1327.71,634.48 1300.47,635.69 1270.17,636.5 1230.05,636.6 1185.18,636.8 1100.3,638.3 1000.35,640.9 882.36,644 872.4,644.29" fill="#e8e8e8"/><g fill="none" stroke-linecap="butt" stroke-linejoin="round"><polyline points="871.61,618 881.66,617.7 999.66,614.6 1099.71,612 1184.83,610.5 1229.95,610.3 1269.83,610.2 1299.55,609.4 1326.32,608.21 1354.14,606.53 1382.62,604.43 1420.87,601.45 1458.85,597.75 1508.93,593.54 1555.83,589.65 1598.68,585.36 1628.63,582.17" fill="none" stroke="#ababab" stroke-width="2.2"/><polyline points="871.64,618.99 881.68,618.69 999.69,615.59 1099.74,612.99 1184.84,611.49 1229.96,611.29 1269.85,611.19 1299.58,610.4 1326.37,609.21 1354.2,607.52 1382.7,605.42 1420.96,602.43 1458.93,598.74 1509.01,594.53 1555.92,590.64 1598.78,586.35 1628.74,583.16" fill="none" stroke="#d7d7d7" stroke-width="2.2"/><polyline points="871.67,619.99 881.71,619.69 999.71,616.59 1099.76,613.98 1184.86,612.48 1229.96,612.28 1269.86,612.18 1299.62,611.39 1326.43,610.2 1354.27,608.51 1382.77,606.41 1421.05,603.42 1459.02,599.73 1509.09,595.52 1556.01,591.63 1598.88,587.34 1628.84,584.14" fill="none" stroke="#eaeaea" stroke-width="2.2"/><polyline points="871.7,620.98 881.74,620.68 999.74,617.58 1099.78,614.98 1184.87,613.47 1229.96,613.27 1269.87,613.17 1299.65,612.38 1326.48,611.19 1354.34,609.5 1382.85,607.4 1421.13,604.41 1459.11,600.71 1509.17,596.51 1556.1,592.62 1598.99,588.33 1628.95,585.13" fill="none" stroke="#f1f1f1" stroke-width="2.2"/><polyline points="871.73,621.97 881.76,621.67 999.77,618.57 1099.8,615.97 1184.88,614.47 1229.97,614.27 1269.89,614.17 1299.69,613.37 1326.53,612.18 1354.4,610.49 1382.92,608.39 1421.22,605.4 1459.2,601.7 1509.26,597.5 1556.19,593.6 1599.09,589.31 1629.05,586.12" fill="none" stroke="#f6f6f6" stroke-width="2.2"/><polyline points="871.76,622.96 881.79,622.66 999.79,619.56 1099.82,616.96 1184.9,615.46 1229.97,615.26 1269.9,615.16 1299.72,614.36 1326.58,613.17 1354.47,611.48 1383,609.38 1421.31,606.39 1459.29,602.69 1509.34,598.49 1556.28,594.59 1599.19,590.3 1629.16,587.1" fill="none" stroke="#fafafa" stroke-width="2.2"/><polyline points="871.79,623.95 881.82,623.65 999.82,620.55 1099.85,617.95 1184.91,616.45 1229.98,616.25 1269.91,616.15 1299.76,615.36 1326.63,614.16 1354.53,612.47 1383.07,610.37 1421.39,607.38 1459.38,603.68 1509.42,599.48 1556.37,595.58 1599.29,591.29 1629.26,588.09" fill="none" stroke="#fefefe" stroke-width="2.2"/><polyline points="871.82,624.95 881.84,624.65 999.84,621.55 1099.87,618.95 1184.92,617.44 1229.98,617.24 1269.92,617.14 1299.79,616.35 1326.69,615.15 1354.6,613.46 1383.15,611.36 1421.48,608.37 1459.47,604.67 1509.5,600.47 1556.46,596.57 1599.39,592.28 1629.37,589.08" fill="none" stroke="#ffffff" stroke-width="2.2"/><polyline points="871.85,625.94 881.87,625.64 999.87,622.54 1099.89,619.94 1184.94,618.44 1229.98,618.24 1269.94,618.14 1299.83,617.34 1326.74,616.14 1354.67,614.45 1383.22,612.35 1421.57,609.36 1459.56,605.66 1509.59,601.45 1556.55,597.56 1599.49,593.26 1629.47,590.07" fill="none" stroke="#fefefe" stroke-width="2.2"/><polyline points="871.88,626.93 881.89,626.63 999.9,623.53 1099.91,620.93 1184.95,619.43 1229.99,619.23 1269.95,619.13 1299.86,618.33 1326.79,617.14 1354.73,615.44 1383.3,613.34 1421.65,610.34 1459.64,606.65 1509.67,602.44 1556.64,598.55 1599.59,594.25 1629.58,591.05" fill="none" stroke="#fdfdfd" stroke-width="2.2"/><polyline points="871.91,627.92 881.92,627.62 999.92,624.52 1099.93,621.92 1184.96,620.42 1229.99,620.22 1269.96,620.12 1299.9,619.32 1326.84,618.13 1354.8,616.43 1383.37,614.33 1421.74,611.33 1459.73,607.63 1509.75,603.43 1556.73,599.53 1599.7,595.24 1629.68,592.04" fill="none" stroke="#fdfdfd" stroke-width="2.2"/><polyline points="871.94,628.92 881.95,628.62 999.95,625.52 1099.96,622.92 1184.97,621.41 1229.99,621.21 1269.97,621.11 1299.93,620.32 1326.9,619.12 1354.87,617.42 1383.45,615.32 1421.83,612.32 1459.82,608.62 1509.83,604.42 1556.82,600.52 1599.8,596.23 1629.79,593.03" fill="none" stroke="#fcfcfc" stroke-width="2.2"/><polyline points="871.97,629.91 881.97,629.61 999.97,626.51 1099.98,623.91 1184.99,622.41 1230,622.21 1269.99,622.11 1299.97,621.31 1326.95,620.11 1354.93,618.41 1383.52,616.31 1421.91,613.31 1459.91,609.61 1509.92,605.41 1556.91,601.51 1599.9,597.21 1629.89,594.01" fill="none" stroke="#fafafa" stroke-width="2.2"/><polyline points="872,630.9 882,630.6 1000,627.5 1100,624.9 1185,623.4 1230,623.2 1270,623.1 1300,622.3 1327,621.1 1355,619.4 1383.6,617.3 1422,614.3 1460,610.6 1510,606.4 1557,602.5 1600,598.2 1630,595" fill="none" stroke="#f6f6f6" stroke-width="2.2"/><polyline points="872.03,631.89 882.03,631.59 1000.03,628.49 1100.02,625.89 1185.01,624.39 1230,624.19 1270.01,624.09 1300.03,623.29 1327.05,622.09 1355.07,620.39 1383.68,618.29 1422.09,615.29 1460.09,611.59 1510.08,607.39 1557.09,603.49 1600.1,599.19 1630.11,595.99" fill="none" stroke="#f1f1f1" stroke-width="2.2"/><polyline points="872.06,632.88 882.05,632.58 1000.05,629.48 1100.04,626.88 1185.03,625.39 1230.01,625.19 1270.03,625.09 1300.07,624.28 1327.1,623.08 1355.13,621.38 1383.75,619.28 1422.17,616.28 1460.18,612.58 1510.17,608.38 1557.18,604.48 1600.2,600.17 1630.21,596.97" fill="none" stroke="#ececec" stroke-width="2.2"/><polyline points="872.09,633.88 882.08,633.58 1000.08,630.48 1100.07,627.88 1185.04,626.38 1230.01,626.18 1270.04,626.08 1300.1,625.28 1327.16,624.07 1355.2,622.37 1383.83,620.27 1422.26,617.27 1460.27,613.57 1510.25,609.37 1557.27,605.47 1600.3,601.16 1630.32,597.96" fill="none" stroke="#e8e8e8" stroke-width="2.2"/><polyline points="872.12,634.87 882.11,634.57 1000.1,631.47 1100.09,628.87 1185.05,627.37 1230.01,627.17 1270.05,627.07 1300.14,626.27 1327.21,625.06 1355.27,623.36 1383.9,621.26 1422.35,618.26 1460.36,614.55 1510.33,610.36 1557.36,606.45 1600.41,602.15 1630.42,598.95" fill="none" stroke="#e1e1e1" stroke-width="2.2"/><polyline points="872.15,635.86 882.13,635.56 1000.13,632.46 1100.11,629.86 1185.06,628.36 1230.02,628.16 1270.06,628.06 1300.17,627.26 1327.26,626.06 1355.33,624.35 1383.98,622.25 1422.43,619.24 1460.44,615.54 1510.41,611.35 1557.45,607.44 1600.51,603.14 1630.53,599.93" fill="none" stroke="#d8d8d8" stroke-width="2.2"/><polyline points="872.18,636.85 882.16,636.55 1000.16,633.45 1100.13,630.85 1185.08,629.36 1230.02,629.16 1270.08,629.06 1300.21,628.25 1327.31,627.05 1355.4,625.34 1384.05,623.24 1422.52,620.23 1460.53,616.53 1510.5,612.33 1557.54,608.43 1600.61,604.12 1630.63,600.92" fill="none" stroke="#d0d0d0" stroke-width="2.2"/><polyline points="872.21,637.85 882.18,637.55 1000.18,634.45 1100.15,631.85 1185.09,630.35 1230.02,630.15 1270.09,630.05 1300.24,629.24 1327.37,628.04 1355.47,626.33 1384.13,624.23 1422.61,621.22 1460.62,617.52 1510.58,613.32 1557.63,609.42 1600.71,605.11 1630.74,601.91" fill="none" stroke="#c8c8c8" stroke-width="2.2"/><polyline points="872.24,638.84 882.21,638.54 1000.21,635.44 1100.18,632.84 1185.1,631.34 1230.03,631.14 1270.1,631.04 1300.28,630.24 1327.42,629.03 1355.53,627.32 1384.2,625.22 1422.69,622.21 1460.71,618.51 1510.66,614.31 1557.72,610.41 1600.81,606.1 1630.84,602.9" fill="none" stroke="#bcbcbc" stroke-width="2.2"/><polyline points="872.27,639.83 882.24,639.53 1000.23,636.43 1100.2,633.83 1185.12,632.33 1230.03,632.13 1270.11,632.03 1300.31,631.23 1327.47,630.02 1355.6,628.31 1384.28,626.21 1422.78,623.2 1460.8,619.5 1510.74,615.3 1557.81,611.4 1600.91,607.09 1630.95,603.88" fill="none" stroke="#aeaeae" stroke-width="2.2"/><polyline points="872.3,640.82 882.26,640.52 1000.26,637.42 1100.22,634.82 1185.13,633.33 1230.04,633.13 1270.13,633.03 1300.35,632.22 1327.52,631.01 1355.66,629.3 1384.35,627.2 1422.87,624.19 1460.89,620.49 1510.83,616.29 1557.9,612.38 1601.01,608.07 1631.05,604.87" fill="none" stroke="#a0a0a0" stroke-width="2.2"/><polyline points="872.33,641.81 882.29,641.51 1000.29,638.41 1100.24,635.82 1185.14,634.32 1230.04,634.12 1270.14,634.02 1300.38,633.21 1327.57,632 1355.73,630.29 1384.43,628.19 1422.95,625.18 1460.98,621.47 1510.91,617.28 1557.99,613.37 1601.12,609.06 1631.16,605.86" fill="none" stroke="#8c8c8c" stroke-width="2.2"/><polyline points="872.36,642.81 882.32,642.51 1000.31,639.41 1100.26,636.81 1185.16,635.31 1230.04,635.11 1270.15,635.01 1300.42,634.2 1327.63,632.99 1355.8,631.28 1384.5,629.18 1423.04,626.17 1461.07,622.46 1510.99,618.27 1558.08,614.36 1601.22,610.05 1631.26,606.84" fill="none" stroke="#737373" stroke-width="2.2"/><polyline points="872.39,643.8 882.34,643.5 1000.34,640.4 1100.29,637.8 1185.17,636.3 1230.05,636.1 1270.17,636 1300.45,635.2 1327.68,633.99 1355.86,632.27 1384.58,630.17 1423.13,627.15 1461.15,623.45 1511.07,619.26 1558.17,615.35 1601.32,611.04 1631.37,607.83" fill="none" stroke="#464646" stroke-width="2.2"/></g><defs><linearGradient id="g5" gradientUnits="userSpaceOnUse" x1="0" y1="-13.4" x2="0" y2="13.4"><stop offset="0" stop-color="#585858"/><stop offset="0.03" stop-color="#c8c8c8"/><stop offset="0.1" stop-color="#eeeeee"/><stop offset="0.25" stop-color="#ffffff"/><stop offset="0.45" stop-color="#fcfcfc"/><stop offset="0.62" stop-color="#e6e6e6"/><stop offset="0.78" stop-color="#c4c4c4"/><stop offset="0.89" stop-color="#989898"/><stop offset="0.96" stop-color="#686868"/><stop offset="1" stop-color="#282828"/></linearGradient></defs><path transform="translate(1630 595) rotate(-6.09)" d="M-4 -13.4 H0 A10.5 13.4 0 0 1 0 13.4 H-4Z" fill="url(#g5)"/><defs><linearGradient id="oe" x1="0" y1="0" x2="0" y2="1"><stop offset="0" stop-color="#484848"/><stop offset="0.12" stop-color="#7a7a7a"/><stop offset="0.4" stop-color="#d2d2d2"/><stop offset="0.7" stop-color="#f4f4f4"/><stop offset="0.92" stop-color="#fbfbfb"/><stop offset="1" stop-color="#d0d0d0"/></linearGradient></defs><ellipse cx="874.5" cy="631.3" rx="10.6" ry="13.6" fill="url(#oe)"/><path d="M866.1 638.9 A10.6 12.8 0 0 0 880.5 642.9" fill="none" stroke="#555" stroke-width="2.2"/>
<g fill="none" stroke="#FF5436" stroke-width="6.2" stroke-linejoin="round" filter="url(#sh)">
<polygon points="1191,107 2089,301 2091,1151 1181.5,948.5" />
</g><g fill="none" stroke="#FF5436" stroke-width="6.2" stroke-linejoin="round" filter="url(#sh)">
<polygon points="1421,306 2018,438.5 2019.2,1023.5 1423,892.5" />
</g><g fill="none" stroke="#FF5436" stroke-width="6.2" stroke-linejoin="round" filter="url(#sh)">
<polygon points="72,324.5 881,108 883,955.5 74,1169.5" />
</g>
<circle cx="457" cy="153.4" r="32.9" fill="#FF5436" filter="url(#sh2)"/><text x="449" y="163.2" font-size="27.5" font-weight="bold" textLength="14.4" lengthAdjust="spacingAndGlyphs" fill="#fff" stroke="#fff" stroke-width="1.1">3</text>
<circle cx="1388" cy="87.5" r="32.9" fill="#FF5436" filter="url(#sh2)"/><text x="1379.6" y="97.3" font-size="27.5" font-weight="bold" textLength="14.9" lengthAdjust="spacingAndGlyphs" fill="#fff" stroke="#fff" stroke-width="1.1">2</text>
<circle cx="1744" cy="447" r="32.9" fill="#FF5436" filter="url(#sh2)"/><text x="1735.5" y="456.8" font-size="27.5" font-weight="bold" textLength="13" lengthAdjust="spacingAndGlyphs" fill="#fff" stroke="#fff" stroke-width="1.1">1</text>
</svg></body></html>
